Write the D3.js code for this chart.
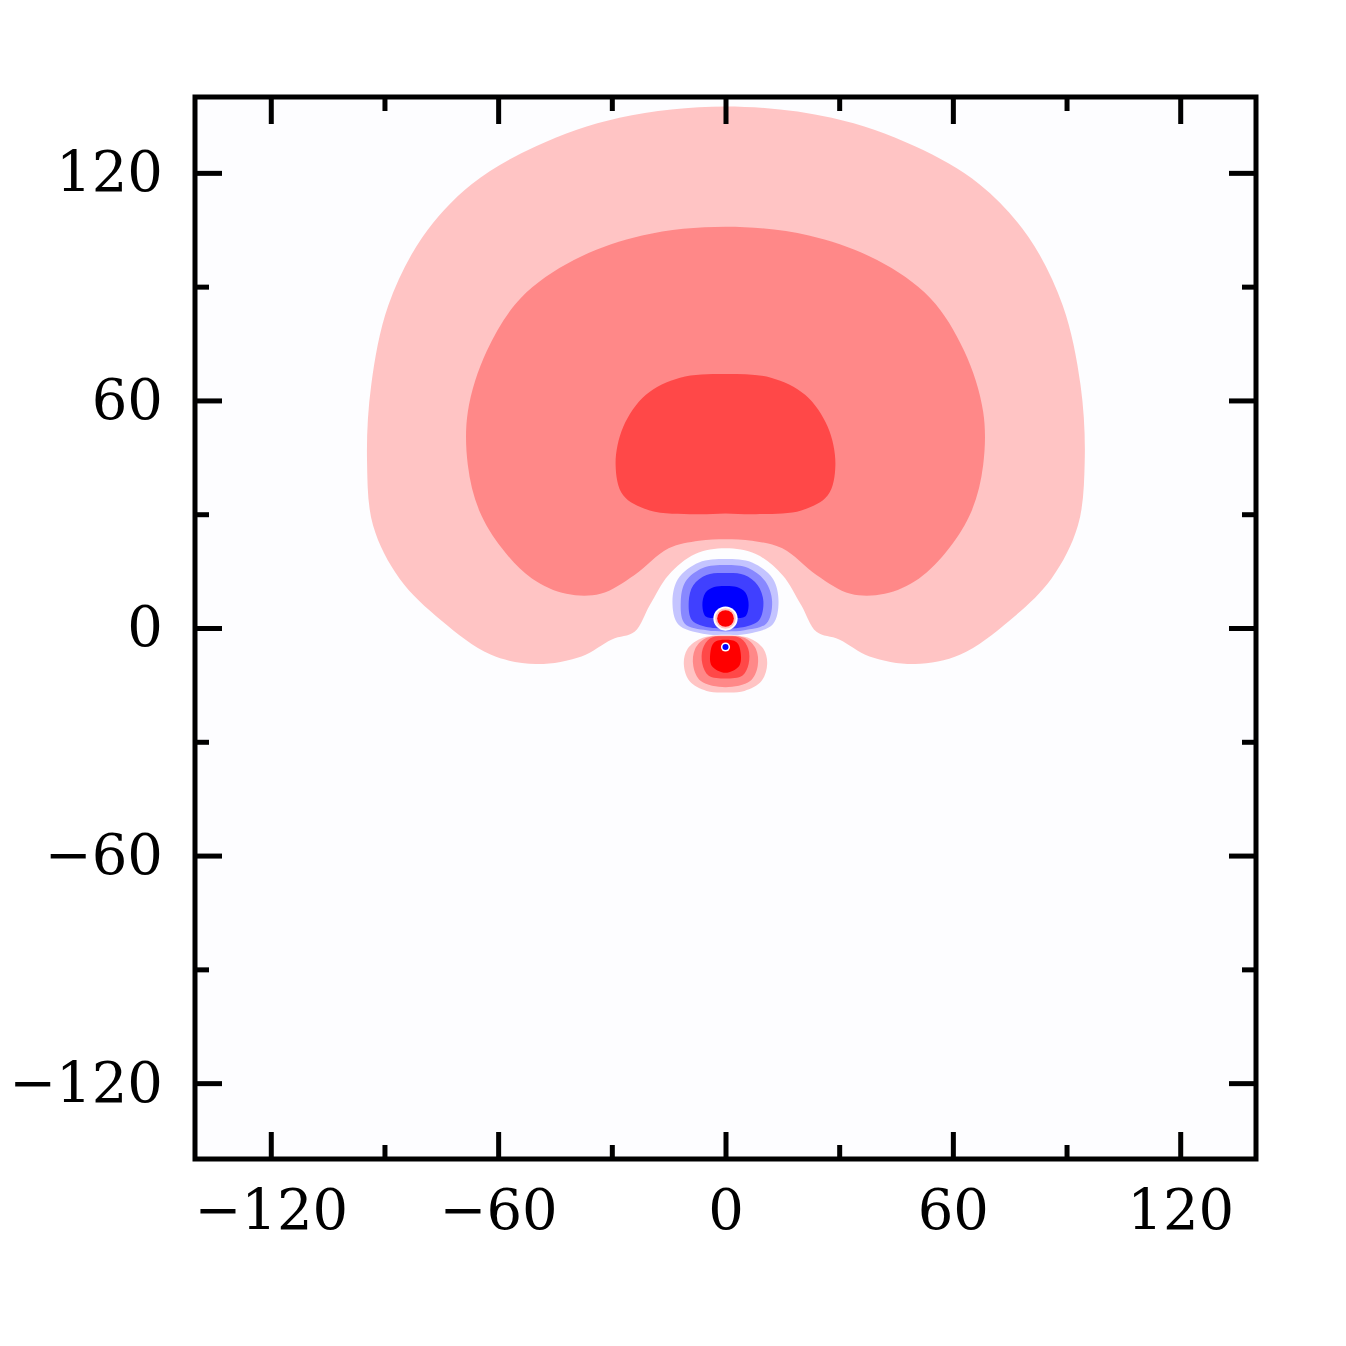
<!DOCTYPE html>
<html><head><meta charset="utf-8">
<script src="https://cdn.jsdelivr.net/npm/d3@7"></script>
<style>body{margin:0;background:#fff}</style>
</head><body>
<svg width="1346" height="1346"></svg>
<script>
// contour boundaries, in data units
const outerPink = [[0,137.5],[-28,134.5],[-50,127],[-67,117],[-80,103],[-89,85],[-93.5,64],[-94.6,44],[-93,27],[-86,13],[-75,2],[-62,-7],[-50,-9.5],[-38,-7.5],[-30,-3],[-24,-1],[-20,6],[-15,14],[-8,19.5],[0,21],
  [8,19.5],[15,14],[20,6],[24,-1],[30,-3],[38,-7.5],[50,-9.5],[62,-7],[75,2],[86,13],[93,27],[94.8,44],[93.7,64],[89,85],[80,103],[67,117],[50,127],[28,134.5]];
const midPink = [[0,105.8],[-22,103.5],[-40,97],[-54,87],[-63,73],[-68,57],[-68,43],[-65,31],[-59,21],[-51,13],[-42,9],[-33,9],[-24,14],[-15,21],[-7,23],[0,23.4],
  [7,23],[15,21],[24,14],[33,9],[42,9],[51,13],[59,21],[65,31],[68,43],[68,57],[63,73],[54,87],[40,97],[22,103.5]];
const darkPink = [[0,67],[-12,66],[-21,61.5],[-27,53],[-29,43],[-27,35],[-20,31],[-8,30],[0,30.2],[8,30],[20,31],[27,35],[29,43],[27,53],[21,61.5],[12,66]];
const blue1 = [[-14,7],[-12.5,13],[-7,17.3],[0,18.2],[7,17.3],[12.5,13],[14,7],[12.5,1],[6,-1.5],[0,-1.8],[-6,-1.5],[-12.5,1]];
const blue2 = [[-11.8,7],[-10.5,12.3],[-6,15.8],[0,16.6],[6,15.8],[10.5,12.3],[12.3,7],[10.8,1.2],[5,-0.6],[0,-0.9],[-5,-0.6],[-10.8,1.2]];
const blue3 = [[-9.7,7],[-8.5,11.3],[-5,14],[0,14.5],[5,14],[8.5,11.3],[10,7],[8.8,2],[4,0.1],[0,-0.1],[-4,0.1],[-8.8,2]];
const blue4 = [[-6.1,6],[-5.3,9.3],[-3,10.8],[0,11.1],[3,10.8],[5.3,9.3],[6.1,6],[5.2,3],[3,2.8],[1.5,4.5],[0,4.8],[-1.5,4.5],[-3,2.8],[-5.2,3]];
const dotRed = [[0,2.5],[2.2]];
const lobe1 = [[0,-1.9],[6,-2.6],[10,-5.5],[11,-9.5],[9.5,-14],[5,-16.6],[0,-17],[-5,-16.6],[-9.5,-14],[-11,-9.5],[-10,-5.5],[-6,-2.6]];
const lobe2 = [[0,-2.1],[5,-2.6],[8,-5.5],[8.5,-10],[6.5,-14],[0,-15.6],[-6.5,-14],[-8.5,-10],[-8,-5.5],[-5,-2.6]];
const lobe3 = [[0,-2.2],[4,-2.7],[6,-5.5],[6.1,-9.5],[4.5,-12.5],[0,-13.3],[-4.5,-12.5],[-6.1,-9.5],[-6,-5.5],[-4,-2.7]];
const lobe4 = [[0,-3.1],[3,-3.8],[4,-6.5],[3.6,-10],[0,-11.8],[-3.6,-10],[-4,-6.5],[-3,-3.8]];
const dotBlue = [[0,-5],[0.8]];
const majorTicks = [-120,-60,0,60,120];
const minorTicks = [-90,-30,30,90];

const svg = d3.select('svg');
const L = 195, R = 1256, T = 97, B = 1159;
const x = d3.scaleLinear().domain([-140,140]).range([L,R]);
const y = d3.scaleLinear().domain([-140,140]).range([B,T]);

svg.append('rect').attr('x',L).attr('y',T).attr('width',R-L).attr('height',B-T).attr('fill','#fdfdff');

const line = d3.line().x(d => x(d[0])).y(d => y(d[1])).curve(d3.curveCatmullRomClosed.alpha(0.5));
const shapes = [
  [outerPink,'#ffc4c4'],[midPink,'#ff8888'],[darkPink,'#ff4848'],
  [blue1,'#c4c4ff'],[blue2,'#8888ff'],[blue3,'#4040ff'],[blue4,'#0000ff'],
  [lobe1,'#ffc4c4'],[lobe2,'#ff8888'],[lobe3,'#ff4848'],[lobe4,'#ff0000']
];
svg.selectAll('path.c').data(shapes).enter().append('path').attr('class','c')
  .attr('d', d => line(d[0])).attr('fill', d => d[1]);

const dots = [[dotRed,3.2,'#ffffff'],[dotRed,2.7,'#ffc4c4'],[dotRed,2.2,'#ff0000'],[dotBlue,1.2,'#ffffff'],[dotBlue,0.8,'#0000ff']];
svg.selectAll('circle.d').data(dots).enter().append('circle').attr('class','d')
  .attr('cx', d => x(d[0][0][0])).attr('cy', d => y(d[0][0][1]))
  .attr('r', d => x(d[1]) - x(0)).attr('fill', d => d[2]);

function axis(gen, tr, vals, size, labels, pad) {
  const g = svg.append('g').attr('transform', tr)
    .call(gen.tickValues(vals).tickSize(-size).tickPadding(pad).tickFormat(labels ? d => d < 0 ? '\u2212' + (-d) : d : ''));
  g.select('.domain').remove();
  g.selectAll('line').attr('stroke','#000').attr('stroke-width',5);
  g.selectAll('text').attr('font-family','DejaVu Serif').attr('font-size',56).attr('fill','#000');
  return g;
}
axis(d3.axisBottom(x), `translate(0,${B})`, majorTicks, 27, true, 30);
axis(d3.axisTop(x), `translate(0,${T})`, majorTicks, 27, false, 10);
axis(d3.axisLeft(y), `translate(${L},0)`, majorTicks, 27, true, 32);
axis(d3.axisRight(y), `translate(${R},0)`, majorTicks, 27, false, 10);
axis(d3.axisBottom(x), `translate(0,${B})`, minorTicks, 14, false, 10);
axis(d3.axisTop(x), `translate(0,${T})`, minorTicks, 14, false, 10);
axis(d3.axisLeft(y), `translate(${L},0)`, minorTicks, 14, false, 10);
axis(d3.axisRight(y), `translate(${R},0)`, minorTicks, 14, false, 10);

svg.append('rect').attr('x',L).attr('y',T).attr('width',R-L).attr('height',B-T)
  .attr('fill','none').attr('stroke','#000').attr('stroke-width',5);
</script>
</body></html>
